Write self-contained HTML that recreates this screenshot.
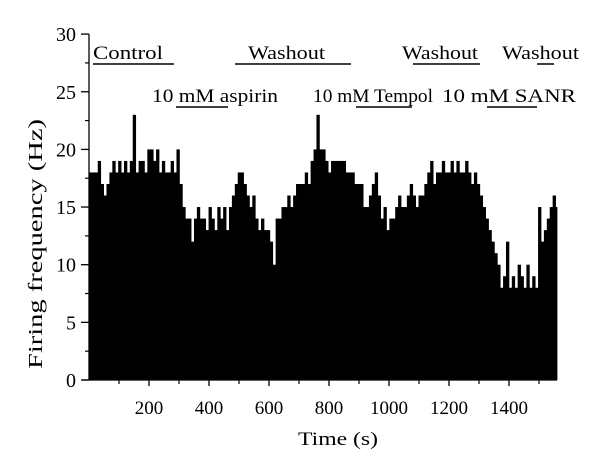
<!DOCTYPE html>
<html><head><meta charset="utf-8"><style>
html,body{margin:0;padding:0;background:#fff;}
svg{display:block;font-family:"Liberation Serif",serif;}
</style></head><body>
<svg id="chart" width="600" height="473" viewBox="0 0 600 473" xmlns="http://www.w3.org/2000/svg">
<g id="bars"></g>
<g id="axes"></g>
<text transform="translate(42,244) rotate(-90)" text-anchor="middle" font-size="20" textLength="250" lengthAdjust="spacingAndGlyphs">Firing frequency (Hz)</text>
<text x="338" y="445" text-anchor="middle" font-size="19" textLength="80" lengthAdjust="spacingAndGlyphs">Time (s)</text>
<g font-size="19" stroke-width="1.4">
<text x="93" y="59" textLength="70" lengthAdjust="spacingAndGlyphs">Control</text>
<line x1="93" y1="64" x2="174" y2="64" stroke="#000"/>
<text x="248" y="59" textLength="77" lengthAdjust="spacingAndGlyphs">Washout</text>
<line x1="235" y1="64" x2="351" y2="64" stroke="#000"/>
<text x="152" y="102" textLength="126" lengthAdjust="spacingAndGlyphs">10 mM aspirin</text>
<line x1="176" y1="107" x2="228" y2="107" stroke="#000"/>
<text x="402" y="59" textLength="76" lengthAdjust="spacingAndGlyphs">Washout</text>
<line x1="413" y1="64" x2="480" y2="64" stroke="#000"/>
<text x="313" y="102" textLength="120" lengthAdjust="spacingAndGlyphs">10 mM Tempol</text>
<line x1="356" y1="107" x2="412" y2="107" stroke="#000"/>
<text x="502" y="59" textLength="77" lengthAdjust="spacingAndGlyphs">Washout</text>
<line x1="537" y1="64" x2="554" y2="64" stroke="#000"/>
<text x="442" y="102" textLength="134" lengthAdjust="spacingAndGlyphs">10 mM SANR</text>
<line x1="487" y1="107" x2="537" y2="107" stroke="#000"/>
</g>
</svg>
<script>
const binStart = 0;
const binStep = 9.72;
const rates = [18,18,18,19,17,16,17,
18,19,18,19,18,19,18,19,23,18,19,19,18,20,20,19,20,18,19,18,18,19,18,20,
17,15,14,
14,12,14,15,14,14,13,15,14,13,15,14,15,13,
15,16,17,18,18,17,16,
15,16,14,13,14,13,13,12,10,
14,14,15,15,16,15,16,17,17,17,18,17,19,20,
23,20,20,19,18,19,19,19,19,19,18,18,18,17,17,17,15,15,16,17,18,16,14,15,13,14,14,15,16,15,15,16,17,16,15,16,16,17,18,19,17,18,18,19,18,18,19,18,19,18,18,19,18,17,18,17,16,15,14,13,12,11,10,8,9,12,8,9,8,10,9,8,10,8,9,8,15,12,13,14,15,16,15];
const yTicks = [0,5,10,15,20,25,30];
const xTicks = [200,400,600,800,1000,1200,1400];
const xMinor = [100,300,500,700,900,1100,1300,1500];

const NS = "http://www.w3.org/2000/svg";
const xs = t => 89 + t * 0.3;
const ys = v => 380 - v * 11.53;
function mk(tag, attrs, parent){
  const e = document.createElementNS(NS, tag);
  for (const k in attrs) e.setAttribute(k, attrs[k]);
  parent.appendChild(e); return e;
}
const bars = document.getElementById('bars');
rates.forEach((v,i)=>{
  const t = binStart + i*binStep;
  const x0 = Math.max(xs(t), 89), x1 = Math.min(xs(t+binStep), 557);
  if (x1 <= x0) return;
  const r = mk('rect', {x:x0, y:ys(v), width:(x1-x0)+0.4, height:ys(0)-ys(v), fill:'#000'}, bars);
  
  
});
const axes = document.getElementById('axes');
const yl = mk('line', {x1:89, y1:ys(30), x2:89, y2:380, stroke:'#000', 'stroke-width':1.3}, axes);


const xl = mk('line', {x1:82, y1:380, x2:557, y2:380, stroke:'#000', 'stroke-width':1.3}, axes);


yTicks.forEach(v=>{
  const tk = mk('line', {x1:81, y1:ys(v), x2:89, y2:ys(v), stroke:'#000', 'stroke-width':1.3}, axes);
  
  
  if (v < 30) {
    const m = mk('line', {x1:85, y1:ys(v+2.5), x2:89, y2:ys(v+2.5), stroke:'#000', 'stroke-width':1.2}, axes);
    
    
  }
  const tx = mk('text', {x:76, y:ys(v)+7, 'text-anchor':'end', 'font-size':20}, axes);
  tx.textContent = v;
  
  
});
xTicks.forEach(t=>{
  const tk = mk('line', {x1:xs(t), y1:380, x2:xs(t), y2:386, stroke:'#000', 'stroke-width':1.3}, axes);
  
  
  const tx = mk('text', {x:xs(t), y:414, 'text-anchor':'middle', 'font-size':19}, axes);
  tx.textContent = t;
  
  
});
xMinor.forEach(t=>{
  const tk = mk('line', {x1:xs(t), y1:380, x2:xs(t), y2:384, stroke:'#000', 'stroke-width':1.2}, axes);
  
  
});
</script>
</body></html>
